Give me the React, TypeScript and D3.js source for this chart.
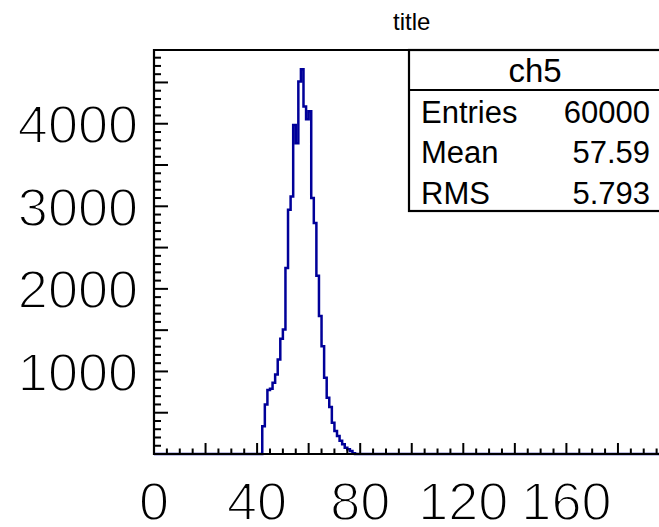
import React, { useEffect, useRef } from 'react';
import * as d3 from 'd3';

// histogram "ch5": 200 bins of width 1 from 0 to 200, only bins 42..77 are filled
const firstBin = 42;
const counts = [
  336, 601, 774, 790, 863, 964, 1145, 1395, 1508, 2254,
  2959, 3120, 3985, 3763, 4510, 4660, 4208, 4055, 4150, 3100,
  2798, 2160, 1670, 1306, 924, 682, 570, 380, 278, 218,
  160, 117, 77, 57, 36, 10,
];
const xLabels = [0, 40, 80, 120, 160];
const yLabels = [1000, 2000, 3000, 4000];
const statNames = ['Entries', 'Mean', 'RMS'];
const statValues = ['60000', '57.59', '5.793'];
const histName = 'ch5';
const title = 'title';

export default function App() {
  const ref = useRef<SVGSVGElement>(null);

  useEffect(() => {
    const svg = d3.select(ref.current);
    svg.selectAll('*').remove();

    const left = 154, right = 669.5, top = 50, bottom = 454;
    const font = "'Liberation Sans', Arial, Helvetica, sans-serif";

    const x = d3.scaleLinear().domain([0, 200]).range([left, right]);
    const ymax = (d3.max(counts) as number) * 1.05;
    const y = d3.scaleLinear().domain([0, ymax]).range([bottom, top]);

    svg.append('rect')
      .attr('width', 659).attr('height', 527)
      .attr('fill', 'white');

    // histogram outline, step after each bin edge
    const pts: [number, number][] = [[0, 0], [firstBin, 0]];
    counts.forEach((c, i) => pts.push([firstBin + i, c]));
    pts.push([firstBin + counts.length, 0]);
    pts.push([200, 0]);

    const line = d3.line<[number, number]>()
      .x(d => x(d[0]))
      .y(d => y(d[1]))
      .curve(d3.curveStepAfter);

    svg.append('path')
      .datum(pts)
      .attr('fill', 'none')
      .attr('stroke', '#000099')
      .attr('stroke-width', 2.5)
      .attr('d', line);

    // frame
    svg.append('path')
      .attr('d', `M${right},${top}H${left}V${bottom}H${right}`)
      .attr('fill', 'none')
      .attr('stroke', 'black')
      .attr('stroke-width', 2.2);

    // x ticks: long every 20, short every 5
    svg.append('g')
      .selectAll('line')
      .data(d3.range(0, 201, 5))
      .join('line')
      .attr('x1', d => x(d)).attr('x2', d => x(d))
      .attr('y1', bottom)
      .attr('y2', d => bottom - (d % 20 === 0 ? 11 : 5.5))
      .attr('stroke', 'black')
      .attr('stroke-width', 2);

    // y ticks: long every 500, short every 100
    svg.append('g')
      .selectAll('line')
      .data(d3.range(0, ymax, 100))
      .join('line')
      .attr('y1', d => y(d)).attr('y2', d => y(d))
      .attr('x1', left)
      .attr('x2', d => left + (d % 500 === 0 ? 14 : 7))
      .attr('stroke', 'black')
      .attr('stroke-width', 2);

    // tick labels: thin strokes, a white outline eats into the glyphs
    const label = (sel: any) => sel
      .attr('font-family', font)
      .attr('font-size', 54)
      .attr('fill', 'black')
      .attr('stroke', 'white')
      .attr('stroke-width', 1.8);

    svg.append('g')
      .selectAll('text')
      .data(xLabels)
      .join('text')
      .attr('x', d => x(d))
      .attr('y', 520)
      .attr('text-anchor', 'middle')
      .call(label)
      .text(d => d);

    svg.append('g')
      .selectAll('text')
      .data(yLabels)
      .join('text')
      .attr('x', 138)
      .attr('y', d => y(d) + 19.5)
      .attr('text-anchor', 'end')
      .call(label)
      .text(d => d);

    // title
    svg.append('text')
      .attr('x', (left + right) / 2)
      .attr('y', 30)
      .attr('text-anchor', 'middle')
      .attr('font-family', font)
      .attr('font-size', 24)
      .text(title);

    // stats box
    const box = svg.append('g');
    box.append('rect')
      .attr('x', 409).attr('y', top)
      .attr('width', right - 409).attr('height', 161)
      .attr('fill', 'white')
      .attr('stroke', 'black')
      .attr('stroke-width', 2.2);
    box.append('line')
      .attr('x1', 409).attr('x2', right)
      .attr('y1', 90).attr('y2', 90)
      .attr('stroke', 'black')
      .attr('stroke-width', 2.2);
    box.append('text')
      .attr('x', 535)
      .attr('y', 82)
      .attr('text-anchor', 'middle')
      .attr('font-family', font)
      .attr('font-size', 33)
      .text(histName);
    statNames.forEach((name, i) => {
      box.append('text')
        .attr('x', 421)
        .attr('y', 122.5 + i * 40.5)
        .attr('font-family', font)
        .attr('font-size', 31)
        .text(name);
      box.append('text')
        .attr('x', 650)
        .attr('y', 122.5 + i * 40.5)
        .attr('text-anchor', 'end')
        .attr('font-family', font)
        .attr('font-size', 31)
        .text(statValues[i]);
    });
  }, []);

  return (
    <svg
      ref={ref}
      width={659}
      height={527}
      style={{ position: 'absolute', left: 0, top: 0, display: 'block' }}
    />
  );
}
